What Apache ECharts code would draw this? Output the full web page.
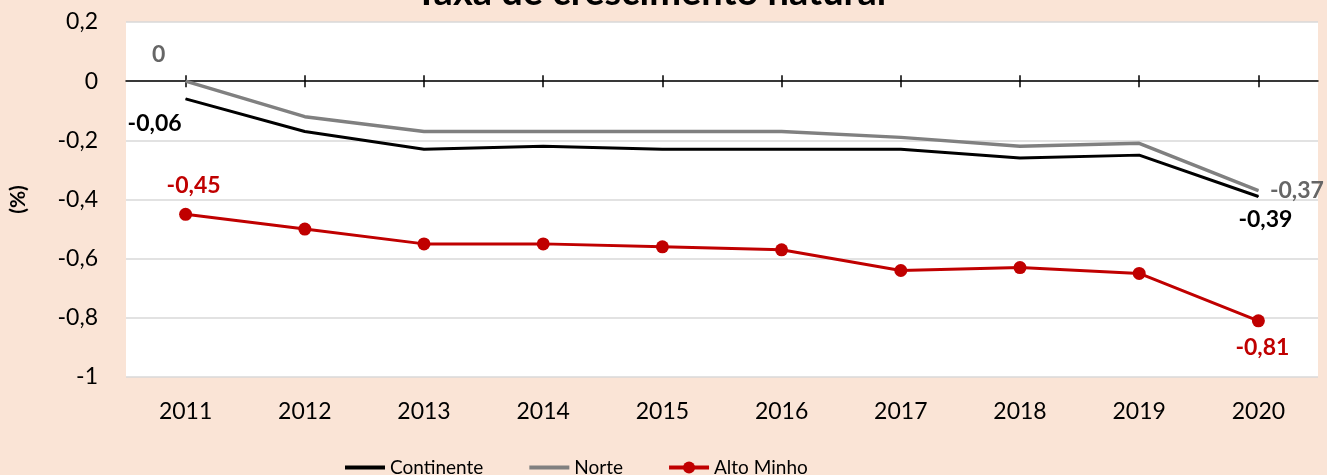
<!DOCTYPE html>
<html>
<head>
<meta charset="utf-8">
<script src="https://cdn.jsdelivr.net/npm/echarts@6/dist/echarts.min.js"></script>
<style>
  html, body { margin: 0; padding: 0; background: #FAE4D6; }
  #chart { width: 1327px; height: 475px; }
</style>
</head>
<body>
<div id="chart"></div>
<script>
var years = ['2011', '2012', '2013', '2014', '2015', '2016', '2017', '2018', '2019', '2020'];
var continente = [-0.06, -0.17, -0.23, -0.22, -0.23, -0.23, -0.23, -0.26, -0.25, -0.39];
var norte = [0, -0.12, -0.17, -0.17, -0.17, -0.17, -0.19, -0.22, -0.21, -0.37];
var altoMinho = [-0.45, -0.50, -0.55, -0.55, -0.56, -0.57, -0.64, -0.63, -0.65, -0.81];
var yMin = -1;
var yMax = 0.2;
var yStep = 0.2;

var FONT = 'Lato';

function fmt(v) {
  return String(Math.round(v * 100) / 100).replace('.', ',');
}

// only first and last point carry a label
function withLabels(values, color, first, last) {
  return values.map(function (v, i) {
    var lab = null;
    if (i === 0) lab = first;
    if (i === values.length - 1) lab = last;
    if (!lab) return v;
    return {
      value: v,
      label: Object.assign({
        show: true,
        color: color,
        fontFamily: FONT,
        fontWeight: 'bold',
        fontSize: 23,
        formatter: function (p) { return fmt(p.value); }
      }, lab)
    };
  });
}

var chart = echarts.init(document.getElementById('chart'));

var option = {
  backgroundColor: '#FAE4D6',
  animation: false,
  // title is cut by the top edge in the original, so it is placed by hand
  graphic: [{
    type: 'text',
    x: 415,
    y: -7,
    z: 10,
    style: {
      text: 'Taxa de crescimento natural',
      fontFamily: FONT,
      fontSize: 38,
      fontWeight: 'bold',
      fill: '#000',
      verticalAlign: 'middle'
    }
  }],
  grid: {
    left: 122,
    right: 9,
    top: 22,
    bottom: 98,
    show: true,
    backgroundColor: '#fff',
    borderWidth: 0
  },
  legend: {
    left: 338,
    top: 453,
    itemGap: 44,
    itemWidth: 40,
    itemHeight: 15,
    lineStyle: { width: 4 },
    textStyle: { fontFamily: FONT, fontSize: 19, color: '#000' },
    data: [
      { name: 'Continente', itemStyle: { opacity: 0 } },
      { name: 'Norte', itemStyle: { opacity: 0 } },
      { name: 'Alto Minho' }
    ]
  },
  xAxis: [{
    type: 'category',
    data: years,
    position: 'bottom',
    axisLine: { show: false, onZero: false },
    axisTick: { show: false },
    axisLabel: { fontFamily: FONT, fontSize: 23, color: '#000', margin: 23 }
  }, {
    type: 'category',
    data: years,
    position: 'bottom',
    axisLine: { show: true, onZero: true, lineStyle: { color: '#000', width: 1.5 } },
    axisTick: { show: true, alignWithLabel: true, length: 6, lineStyle: { color: '#000', width: 1.5 } },
    axisLabel: { show: false }
  }, {
    type: 'category',
    data: years,
    position: 'bottom',
    axisLine: { show: false, onZero: true, onZeroAxisIndex: 1 },
    axisTick: { show: true, inside: true, alignWithLabel: true, length: 6, lineStyle: { color: '#000', width: 1.5 } },
    axisLabel: { show: false }
  }],
  yAxis: [{
    type: 'value',
    min: yMin,
    max: yMax,
    interval: yStep,
    name: '(%)',
    nameLocation: 'middle',
    nameRotate: 90,
    nameGap: 97,
    nameTextStyle: { fontFamily: FONT, fontSize: 21, fontWeight: 'bold', color: '#000' },
    axisLine: { show: false },
    axisTick: { show: false },
    axisLabel: { fontFamily: FONT, fontSize: 23, color: '#000', margin: 28, formatter: fmt },
    splitLine: { lineStyle: { color: '#D9D9D9', width: 1.5 } }
  }, {
    type: 'value',
    min: yMin,
    max: yMax,
    interval: yStep,
    show: false,
    splitLine: { show: false }
  }],
  series: [{
    name: 'Continente',
    type: 'line',
    xAxisIndex: 0,
    yAxisIndex: 0,
    symbol: 'circle',
    symbolSize: 1,
    itemStyle: { color: '#000' },
    lineStyle: { color: '#000', width: 3 },
    data: withLabels(continente, '#000',
      { position: 'bottom', offset: [-31, 8] },
      { position: 'bottom', offset: [7, 6] })
  }, {
    name: 'Norte',
    type: 'line',
    xAxisIndex: 0,
    yAxisIndex: 0,
    symbol: 'circle',
    symbolSize: 1,
    itemStyle: { color: '#808080' },
    lineStyle: { color: '#808080', width: 3.5 },
    data: withLabels(norte, '#666666',
      { position: 'top', offset: [-27, -10] },
      { position: 'right', offset: [6, 0] })
  }, {
    name: 'Alto Minho',
    type: 'line',
    xAxisIndex: 0,
    yAxisIndex: 0,
    symbol: 'circle',
    symbolSize: 13,
    itemStyle: { color: '#C00000' },
    lineStyle: { color: '#C00000', width: 3 },
    data: withLabels(altoMinho, '#C00000',
      { position: 'top', offset: [8, -6] },
      { position: 'bottom', offset: [4, 4] })
  }]
};

chart.setOption(option);
</script>
</body>
</html>
